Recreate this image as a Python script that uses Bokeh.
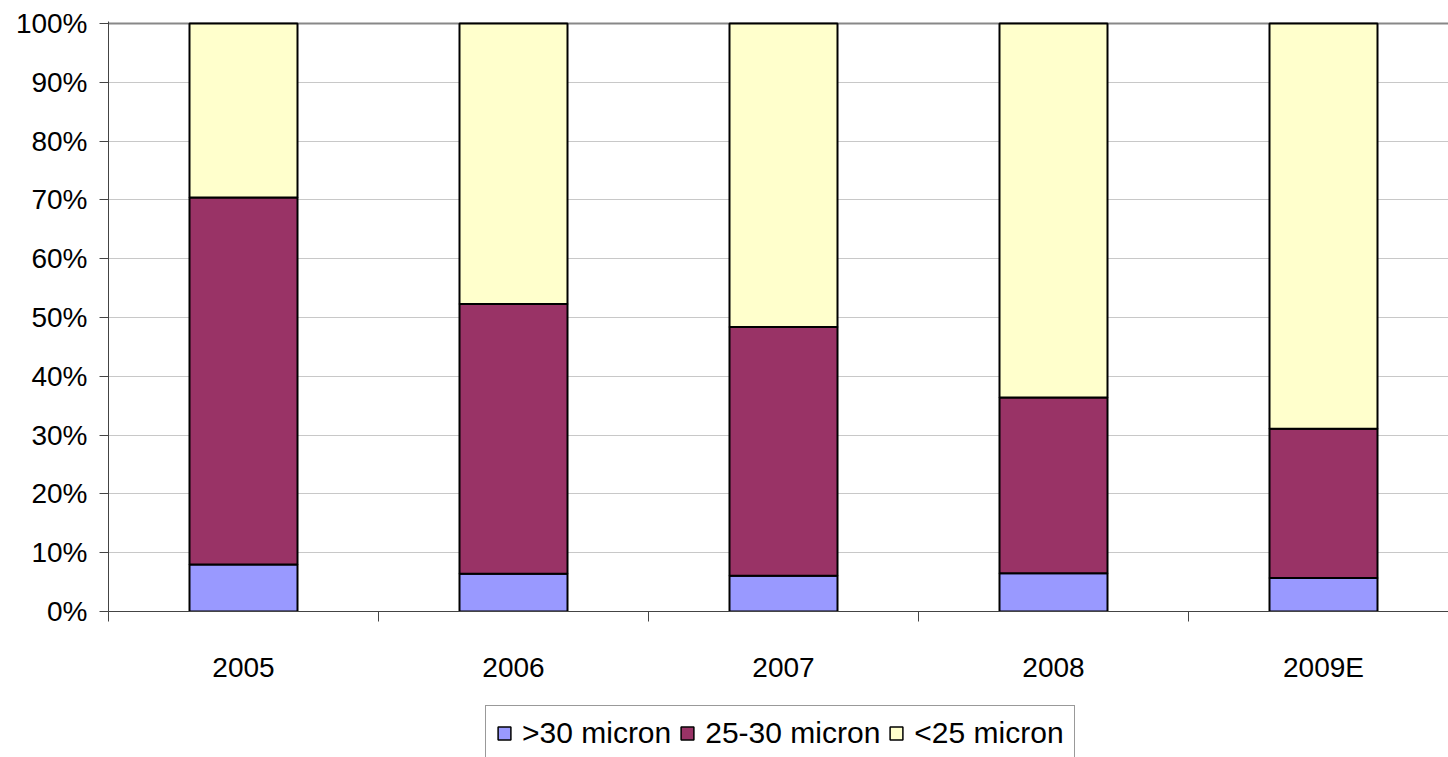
from bokeh.plotting import figure
from bokeh.layouts import column
from bokeh.models import (ColumnDataSource, Range1d, FixedTicker, NumeralTickFormatter,
                          Legend, LegendItem, Span)
from bokeh.embed import file_html
from bokeh.resources import INLINE

# ---- data ----
years = ["2005", "2006", "2007", "2008", "2009E"]
over_30 = [0.080, 0.064, 0.061, 0.065, 0.057]
mid_25_30 = [0.624, 0.459, 0.423, 0.299, 0.254]
under_25 = [0.296, 0.477, 0.516, 0.636, 0.689]
series_names = [">30 micron", "25-30 micron", "<25 micron"]
series_keys = ["over_30", "mid_25_30", "under_25"]
colors = ["#9999FF", "#993366", "#FFFFCC"]
y_ticks = [0, 0.1, 0.2, 0.3, 0.4, 0.5, 0.6, 0.7, 0.8, 0.9, 1.0]

FONT = "Liberation Sans"

centers = [i + 0.5 for i in range(len(years))]
boundaries = list(range(len(years) + 1))

source = ColumnDataSource(dict(x=centers, over_30=over_30, mid_25_30=mid_25_30,
                               under_25=under_25))

W = 1448
p = figure(width=W, height=700, output_backend="svg", toolbar_location=None,
           x_range=Range1d(0, 1340 / 270), y_range=Range1d(0, 1 + 2 / 588),
           min_border_left=108, min_border_right=0, min_border_top=21,
           min_border_bottom=89, background_fill_color="white",
           border_fill_color="white")
p.outline_line_color = None

renderers = p.vbar_stack(series_keys, x="x", width=0.4, source=source,
                         fill_color=colors, line_color="black", line_width=2)

# grid
p.xgrid.grid_line_color = None
p.ygrid.grid_line_color = "#c8c8c8"
p.ygrid.grid_line_width = 1
p.ygrid.ticker = FixedTicker(ticks=y_ticks)
p.add_layout(Span(location=1.0, dimension="width", line_color="#888888", line_width=2,
                  level="underlay"))

# y axis
ya = p.yaxis[0]
ya.ticker = FixedTicker(ticks=y_ticks)
ya.formatter = NumeralTickFormatter(format="0%")
ya.major_label_text_font = FONT
ya.major_label_text_font_size = "28px"
ya.major_label_text_color = "black"
ya.major_tick_out = 9
ya.major_tick_in = 0
ya.minor_tick_out = 0
ya.minor_tick_in = 0
ya.major_label_standoff = 12
ya.axis_line_color = "#444444"
ya.major_tick_line_color = "#444444"

# x axis
xa = p.xaxis[0]
xa.ticker = FixedTicker(ticks=centers, minor_ticks=boundaries)
xa.major_label_overrides = {c: y for c, y in zip(centers, years)}
xa.major_label_text_font = FONT
xa.major_label_text_font_size = "28px"
xa.major_label_text_color = "black"
xa.major_tick_out = 0
xa.major_tick_in = 0
xa.minor_tick_out = 10
xa.minor_tick_in = 0
xa.major_label_standoff = 30
xa.axis_line_color = "#444444"
xa.minor_tick_line_color = "#444444"

# ---- legend strip (same frame alignment as main plot) ----
lp = figure(width=W, height=57, output_backend="svg", toolbar_location=None,
            x_axis_type=None, y_axis_type=None,
            x_range=Range1d(0, 1340 / 270), y_range=Range1d(0, 1),
            min_border_left=108, min_border_right=0, min_border_top=0,
            min_border_bottom=0, background_fill_color="white",
            border_fill_color="white")
lp.outline_line_color = None
lp.xgrid.visible = False
lp.ygrid.visible = False
# hidden swatch renderers (same data source) that only feed the legend
swatches = lp.vbar_stack(series_keys, x="x", width=0.4, source=source,
                         fill_color=colors, line_color="black", line_width=1.5)
for r in swatches:
    r.visible = False
items = [LegendItem(label=n, renderers=[r]) for n, r in zip(series_names, swatches)]
legend = Legend(items=items, orientation="horizontal", location=(377, -4),
                label_text_font=FONT, label_text_font_size="30px",
                label_text_color="black", glyph_width=16, glyph_height=16,
                label_standoff=10, spacing=8, padding=10, margin=0,
                border_line_color="#333333", border_line_width=1,
                background_fill_alpha=1.0, inactive_fill_alpha=0.0)
lp.add_layout(legend, "center")

layout = column(p, lp, spacing=0)
open("out.html", "w").write(file_html(layout, INLINE))
